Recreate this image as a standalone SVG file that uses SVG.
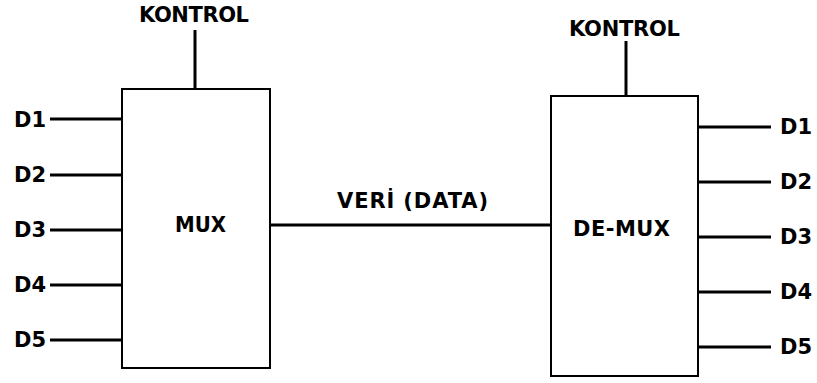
<svg xmlns="http://www.w3.org/2000/svg" width="817" height="383" viewBox="0 0 817 383">
  <style>
    .box { fill: #ffffff; stroke: #000000; stroke-width: 2; }
    .wire { stroke: #000000; stroke-width: 3; fill: none; }
    .lbl { font-family: "DejaVu Sans", Verdana, sans-serif; font-weight: bold; font-size: 21px; fill: #000000; }
  </style>
  <rect width="817" height="383" fill="#ffffff"/>

  <!-- wires -->
  <g id="connectors">
    <line class="wire" x1="195" y1="30" x2="195" y2="89"/>
    <line class="wire" x1="50" y1="119" x2="122" y2="119"/>
    <line class="wire" x1="50" y1="175" x2="122" y2="175"/>
    <line class="wire" x1="50" y1="230" x2="122" y2="230"/>
    <line class="wire" x1="50" y1="285" x2="122" y2="285"/>
    <line class="wire" x1="50" y1="340" x2="122" y2="340"/>
    <line class="wire" x1="270" y1="225" x2="553" y2="225"/>
    <line class="wire" x1="626" y1="41" x2="626" y2="96"/>
    <line class="wire" x1="698" y1="127" x2="771" y2="127"/>
    <line class="wire" x1="698" y1="182" x2="771" y2="182"/>
    <line class="wire" x1="698" y1="237" x2="771" y2="237"/>
    <line class="wire" x1="698" y1="292" x2="771" y2="292"/>
    <line class="wire" x1="698" y1="347" x2="771" y2="347"/>
  </g>

  <!-- multiplexer -->
  <g id="mux">
    <rect class="box" x="122" y="89" width="148" height="279"/>
    <text class="lbl" x="175" y="232" textLength="51" lengthAdjust="spacingAndGlyphs">MUX</text>
  </g>

  <!-- demultiplexer -->
  <g id="demux">
    <rect class="box" x="551" y="96" width="147" height="280"/>
    <text class="lbl" x="573" y="236" textLength="97" lengthAdjust="spacing">DE-MUX</text>
  </g>

  <!-- labels -->
  <g id="labels">
    <text class="lbl" x="139" y="22" textLength="110" lengthAdjust="spacing">KONTROL</text>
    <text class="lbl" x="569" y="36" textLength="111" lengthAdjust="spacing">KONTROL</text>
    <text class="lbl" x="337" y="208" textLength="151" lengthAdjust="spacing">VERİ (DATA)</text>
    <text class="lbl" x="14" y="127">D1</text>
    <text class="lbl" x="14" y="182">D2</text>
    <text class="lbl" x="14" y="237">D3</text>
    <text class="lbl" x="14" y="292">D4</text>
    <text class="lbl" x="14" y="347">D5</text>
    <text class="lbl" x="780" y="134">D1</text>
    <text class="lbl" x="780" y="189">D2</text>
    <text class="lbl" x="780" y="244">D3</text>
    <text class="lbl" x="780" y="299">D4</text>
    <text class="lbl" x="780" y="354">D5</text>
  </g>
</svg>
